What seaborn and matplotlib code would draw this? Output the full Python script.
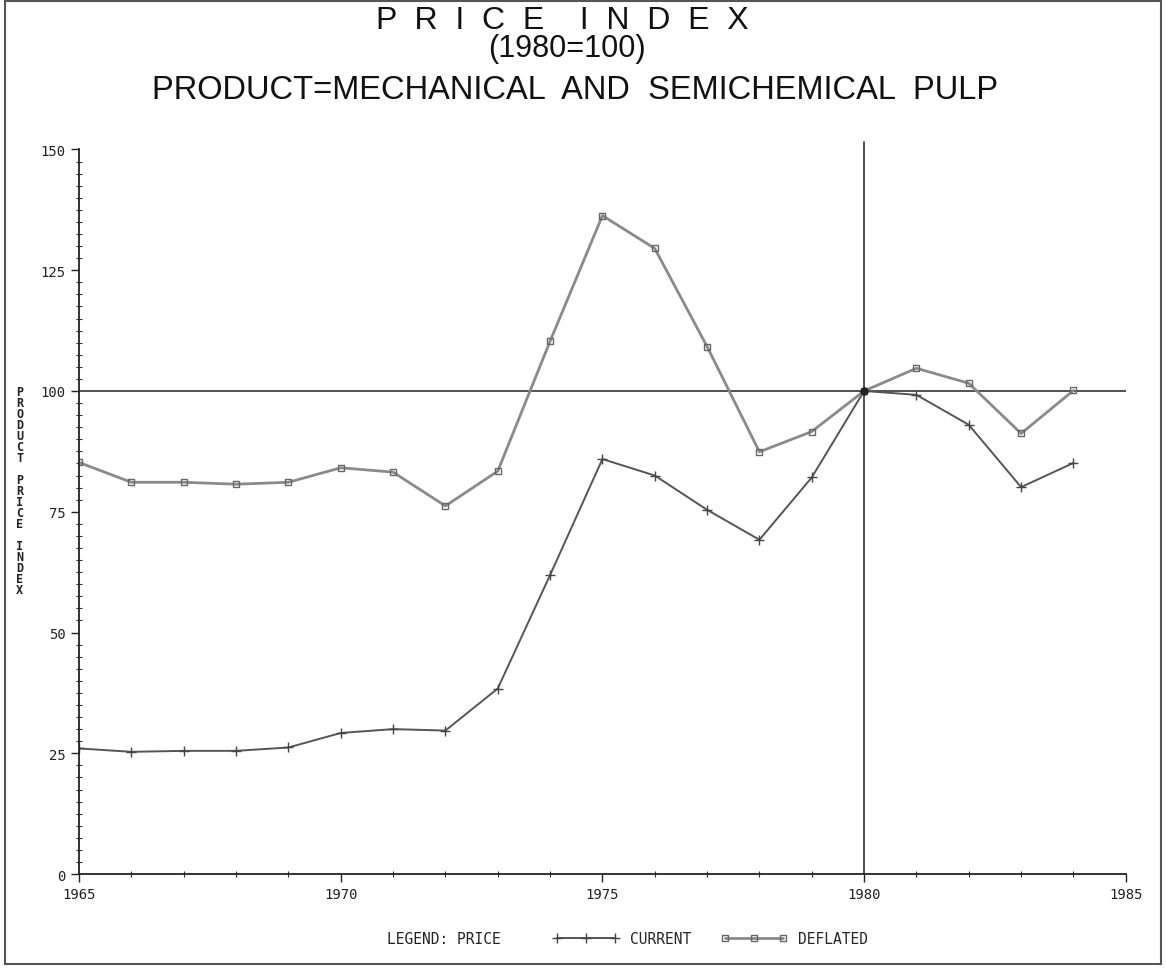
import matplotlib
matplotlib.use("Agg")
import matplotlib.pyplot as plt
from matplotlib.ticker import MultipleLocator
from matplotlib.lines import Line2D
from matplotlib.patches import Rectangle
import seaborn as sns
import pandas as pd

# Price index series, 1980 = 100
years = list(range(1965, 1985))
current = [26.0, 25.3, 25.5, 25.5, 26.2, 29.2, 30.0, 29.7, 38.4, 61.9,
           85.9, 82.5, 75.4, 69.2, 82.1, 100.0, 99.2, 93.0, 80.1, 85.1]
deflated = [85.2, 81.1, 81.1, 80.7, 81.1, 84.1, 83.2, 76.2, 83.4, 110.3,
            136.3, 129.5, 109.2, 87.4, 91.6, 100.0, 104.7, 101.6, 91.2, 100.1]
series_names = ["CURRENT", "DEFLATED"]
x_ticks = [1965, 1970, 1975, 1980, 1985]
y_ticks = [0, 25, 50, 75, 100, 125, 150]

df = pd.DataFrame({
    "YEAR": years * 2,
    "INDEX": current + deflated,
    "PRICE": [series_names[0]] * len(years) + [series_names[1]] * len(years),
})

sns.set_theme(style="white")
plt.rcParams["font.family"] = ["DejaVu Sans"]

fig = plt.figure(figsize=(11.66, 9.70), dpi=100)
ax = fig.add_axes([0.0678, 0.0979, 0.8977, 0.747])

styles = {
    "CURRENT": dict(color="#555555", lw=1.4, marker="+", markersize=7,
                    markeredgewidth=1.0, markeredgecolor="#444444"),
    "DEFLATED": dict(color="#8a8a8a", lw=2.0, marker="s", markersize=4.5,
                     markerfacecolor="none", markeredgewidth=1.0,
                     markeredgecolor="#666666"),
}
for name in series_names:
    sub = df[df["PRICE"] == name]
    sns.lineplot(data=sub, x="YEAR", y="INDEX", ax=ax, legend=False,
                 **styles[name])

# Base-year reference lines
ax.axhline(100, color="#222222", lw=1.1, zorder=1)
ax.axvline(1980, color="#222222", lw=1.1, zorder=1, ymax=1.01, clip_on=False)
ax.plot([1980], [100], "o", color="#222222", ms=5, zorder=5)

ax.set_xlim(1965, 1985)
ax.set_ylim(0, 150)
ax.set_xticks(x_ticks)
ax.set_yticks(y_ticks)
ax.xaxis.set_minor_locator(MultipleLocator(1))
ax.yaxis.set_minor_locator(MultipleLocator(2.5))
ax.tick_params(axis="both", which="major", direction="out", length=6,
               width=1.0, color="#222222", labelsize=10, labelcolor="#222222",
               left=True, bottom=True)
ax.tick_params(axis="both", which="minor", direction="inout", length=5,
               width=0.8, color="#333333", left=True, bottom=True)
for lab in ax.get_xticklabels() + ax.get_yticklabels():
    lab.set_family("DejaVu Sans Mono")
ax.set_xlabel("")
ax.set_ylabel("")
for side in ("top", "right"):
    ax.spines[side].set_visible(False)
for side in ("left", "bottom"):
    ax.spines[side].set_color("#222222")
    ax.spines[side].set_linewidth(1.3)

# Stacked vertical axis label
ylab = "PRODUCT PRICE INDEX"
fig.text(0.017, 0.493, "\n".join(ylab), ha="center", va="center",
         fontsize=8.5, linespacing=0.8, family="DejaVu Sans Mono",
         fontweight="bold", color="#222222")

# Titles
fig.text(0.482, 0.978, "P  R  I  C  E    I  N  D  E  X", ha="center", va="center",
         fontsize=23, family="Liberation Sans", color="#111111")
fig.text(0.486, 0.950, "(1980=100)", ha="center", va="center",
         fontsize=22, family="Liberation Sans", color="#111111")
fig.text(0.493, 0.907, "PRODUCT=MECHANICAL  AND  SEMICHEMICAL  PULP",
         ha="center", va="center", fontsize=23.5, family="Liberation Sans",
         color="#111111")

# Legend row
fig.text(0.381, 0.031, "LEGEND: PRICE", ha="center", va="center",
         fontsize=10.5, family="DejaVu Sans Mono", color="#222222")
handles = [
    Line2D([], [], **styles["CURRENT"]),
    Line2D([], [], **styles["DEFLATED"]),
]
fig.legend(handles, series_names, loc="center", bbox_to_anchor=(0.609, 0.031),
           ncol=2, frameon=False, handlelength=4.6, columnspacing=2.0,
           handletextpad=0.7, prop={"family": "DejaVu Sans Mono", "size": 10.5},
           numpoints=3)

# Page frame
fig.patches.append(Rectangle((0.004, 0.005), 0.992, 0.993, transform=fig.transFigure,
                             fill=False, edgecolor="#555555", lw=1.5))

fig.savefig("out.png", dpi=100, facecolor="white")
